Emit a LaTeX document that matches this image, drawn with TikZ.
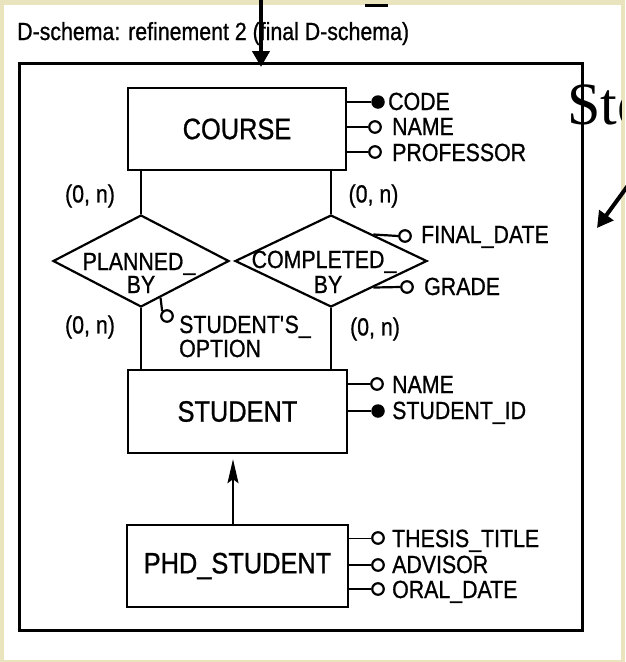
\documentclass[tikz,border=0pt]{standalone}
\usepackage{fontspec}
\setmainfont{Liberation Sans}[FakeStretch=0.86,FakeBold=0.8]
\newfontfamily\serifface{Liberation Serif}
\usetikzlibrary{shapes.geometric,arrows.meta,calc}
\definecolor{paper}{RGB}{234,228,190}
\newcommand{\attrfont}{\fontsize{24.8}{25}\selectfont}
\newcommand{\entfont}{\fontsize{29.5}{30}\selectfont}

\tikzset{
  entity/.style={draw, line width=2.4pt, inner sep=0pt, font=\entfont},
  rel/.style={draw, diamond, line width=2.2pt, inner sep=0pt, minimum height=92pt},
  lbl/.style={font=\attrfont, inner sep=0pt, anchor=base west},
  ctr/.style={font=\attrfont, inner sep=0pt, anchor=base},
  card/.style={font=\attrfont, inner sep=0pt},
  opt/.style={circle, draw, line width=2.2pt, fill=white, minimum size=11.5pt, inner sep=0pt},
  key/.style={circle, fill=black, minimum size=13.5pt, inner sep=0pt},
  link/.style={line width=2.2pt},
  pointer/.style={line width=4pt, -{Triangle[length=16pt,width=17pt]}},
}

\begin{document}
\begin{tikzpicture}[x=1pt,y=-1pt]
  % page and sheet
  \fill[paper] (0,0) rectangle (625,662);
  \fill[white] (4,5) rectangle (621,660);
  \useasboundingbox (0,0) rectangle (625,662);

  % large heading fragment on the right, cut at the sheet edge
  \begin{scope}
    \clip (0,0) rectangle (621,662);
    \node[anchor=base west, inner sep=0pt, font=\serifface\fontsize{60}{60}\selectfont] (stword) at (567,124) {Ste};
  \end{scope}
  \draw[line width=3pt] (365,5) -- (388,5);

  % title and outer frame
  \node[lbl] (title) at (17,40) {D-schema: refinement 2 (final D-schema)};
  \node[draw, line width=3pt, minimum width=563pt, minimum height=567pt, inner sep=0pt] (frame) at (300.5,346.5) {};

  % entities
  \node[entity, minimum width=218pt, minimum height=82pt] (course) at (237,129) {COURSE};
  \node[entity, minimum width=219pt, minimum height=83pt] (student) at (237.5,411.5) {STUDENT};
  \node[entity, minimum width=221pt, minimum height=82pt] (phd) at (237.5,566) {PHD\_STUDENT};

  % relationships
  \node[rel, minimum width=176pt] (planned) at (141,261) {};
  \node[rel, minimum width=192pt] (completed) at (331,261) {};
  \node[ctr] (pl1) at (139,270) {PLANNED\_};
  \node[ctr] (pl2) at (141,293) {BY};
  \node[ctr] (cp1) at (324,268) {COMPLETED\_};
  \node[ctr] (cp2) at (328,293) {BY};

  \draw[link] (planned.north) -- (planned.north |- course.south);
  \draw[link] (planned.south) -- (planned.south |- student.north);
  \draw[link] (completed.north) -- (completed.north |- course.south);
  \draw[link] (completed.south) -- (completed.south |- student.north);

  % cardinalities
  \node[card] (c1) at (90,196) {(0, n)};
  \node[card] (c2) at (373.5,196) {(0, n)};
  \node[card] (c3) at (90,327) {(0, n)};
  \node[card] (c4) at (375,329) {(0, n)};

  % COURSE attributes
  \node[key] (codeD) at (378,102) {};
  \draw[link] (codeD.west) -- (codeD.west -| course.east);
  \node[lbl] (codeT) at (388,110) {CODE};
  \node[opt] (cnameD) at (375,127) {};
  \draw[link] (cnameD.west) -- (cnameD.west -| course.east);
  \node[lbl] (cnameT) at (392,135) {NAME};
  \node[opt] (profD) at (375,152) {};
  \draw[link] (profD.west) -- (profD.west -| course.east);
  \node[lbl] (profT) at (392,161) {PROFESSOR};

  % relationship attributes
  \node[opt] (fdateD) at (405,236) {};
  \draw[link] (fdateD.west) -- (completed.32);
  \node[lbl] (fdateT) at (421,243) {FINAL\_DATE};
  \node[opt] (gradeD) at (407,287) {};
  \draw[link] (gradeD.west) -- (completed.-32);
  \node[lbl] (gradeT) at (424,295) {GRADE};
  \node[opt] (optD) at (167,316) {};
  \draw[link] (optD.north west) -- (planned.-62);
  \node[lbl] (optT1) at (179,333) {STUDENT\textquotesingle S\_};
  \node[lbl] (optT2) at (179,357) {OPTION};

  % STUDENT attributes
  \node[opt] (snameD) at (377,384) {};
  \draw[link] (snameD.west) -- (snameD.west -| student.east);
  \node[lbl] (snameT) at (392,393) {NAME};
  \node[key] (sidD) at (378,411) {};
  \draw[link] (sidD.west) -- (sidD.west -| student.east);
  \node[lbl] (sidT) at (392,419) {STUDENT\_ID};

  % PHD_STUDENT attributes
  \node[opt] (thD) at (378,538) {};
  \draw[line width=1pt] (thD.west) -- (thD.west -| phd.east);
  \node[lbl] (thT) at (392,547) {THESIS\_TITLE};
  \node[opt] (advD) at (378,565) {};
  \draw[link] (advD.west) -- (advD.west -| phd.east);
  \node[lbl] (advT) at (392,573) {ADVISOR};
  \node[opt] (oralD) at (378,589) {};
  \draw[link] (oralD.west) -- (oralD.west -| phd.east);
  \node[lbl] (oralT) at (392,598) {ORAL\_DATE};

  % generalization
  \draw[line width=1.8pt, -{Stealth[length=24pt,width=11pt,inset=4pt]}]
    ([xshift=-4.5pt]phd.north) -- ($(student.south)+(-4.5,5)$);

  % pointers
  \coordinate (srcTop) at (261,-3);
  \coordinate (tipTop) at (261,67);
  \draw[pointer] (srcTop) -- (tipTop);
  \coordinate (srcRight) at (632,180);
  \coordinate (tipRight) at (597,228);
  \draw[pointer] (srcRight) -- (tipRight);
\end{tikzpicture}
\end{document}
